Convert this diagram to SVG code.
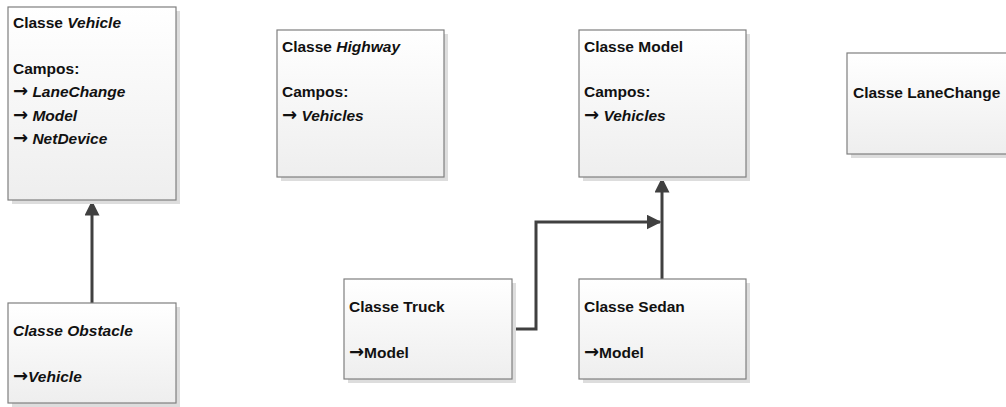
<svg xmlns="http://www.w3.org/2000/svg" width="1006" height="407" viewBox="0 0 1006 407">
  <style>
    .box { fill: url(#boxFill); stroke: #7f7f7f; stroke-width: 1.2; }
    .shadow { fill: #dddddd; }
    .t { font-family: "Liberation Sans", Arial, sans-serif; font-size: 15.5px; font-weight: bold; fill: #111; }
    .i { font-style: italic; }
    .ar { font-family: "DejaVu Sans", sans-serif; font-weight: bold; font-style: normal; font-size: 18px; }
    .wire { fill: none; stroke: #404040; stroke-width: 3; }
  </style>
  <defs>
    <linearGradient id="boxFill" x1="0" y1="0" x2="0" y2="1">
      <stop offset="0" stop-color="#ffffff"/>
      <stop offset="1" stop-color="#eeeeee"/>
    </linearGradient>
    <marker id="head" viewBox="0 0 10 10" refX="9" refY="5" markerWidth="5" markerHeight="5" markerUnits="strokeWidth" orient="auto">
      <path d="M0,0 L10,5 L0,10 z" fill="#404040"/>
    </marker>
  </defs>

  <!-- connectors -->
  <g id="connectors">
    <path class="wire" d="M92,303 V202" marker-end="url(#head)"/>
    <path class="wire" d="M662,279 V179" marker-end="url(#head)"/>
    <path class="wire" d="M512,329 H536 V222 H660" marker-end="url(#head)"/>
  </g>

  <g id="vehicle">
    <rect class="shadow" x="12" y="11" width="168" height="193"/>
    <rect class="box" x="8" y="7" width="168" height="193"/>
    <text class="t" x="13" y="28">Classe <tspan class="i">Vehicle</tspan></text>
    <text class="t" x="13" y="74">Campos:</text>
    <text class="t" x="13" y="97"><tspan class="ar">→</tspan> <tspan class="i">LaneChange</tspan></text>
    <text class="t" x="13" y="121"><tspan class="ar">→</tspan> <tspan class="i">Model</tspan></text>
    <text class="t" x="13" y="144"><tspan class="ar">→</tspan> <tspan class="i">NetDevice</tspan></text>
  </g>

  <g id="obstacle">
    <rect class="shadow" x="12" y="307" width="168" height="100"/>
    <rect class="box" x="8" y="303" width="168" height="100"/>
    <text class="t i" x="13" y="336">Classe Obstacle</text>
    <text class="t i" x="13" y="382"><tspan class="ar">→</tspan>Vehicle</text>
  </g>

  <g id="highway">
    <rect class="shadow" x="281" y="34" width="167" height="147"/>
    <rect class="box" x="277" y="30" width="167" height="147"/>
    <text class="t" x="282" y="52">Classe <tspan class="i">Highway</tspan></text>
    <text class="t" x="282" y="97">Campos:</text>
    <text class="t" x="282" y="121"><tspan class="ar">→</tspan> <tspan class="i">Vehicles</tspan></text>
  </g>

  <g id="model">
    <rect class="shadow" x="583" y="34" width="167" height="147"/>
    <rect class="box" x="579" y="30" width="167" height="147"/>
    <text class="t" x="584" y="52">Classe Model</text>
    <text class="t" x="584" y="97">Campos:</text>
    <text class="t" x="584" y="121"><tspan class="ar">→</tspan> <tspan class="i">Vehicles</tspan></text>
  </g>

  <g id="lanechange">
    <rect class="shadow" x="851" y="57" width="170" height="101"/>
    <rect class="box" x="847" y="53" width="170" height="101"/>
    <text class="t" x="853" y="98">Classe LaneChange</text>
  </g>

  <g id="truck">
    <rect class="shadow" x="348" y="283" width="168" height="100"/>
    <rect class="box" x="344" y="279" width="168" height="100"/>
    <text class="t" x="349" y="312">Classe Truck</text>
    <text class="t" x="349" y="358"><tspan class="ar">→</tspan>Model</text>
  </g>

  <g id="sedan">
    <rect class="shadow" x="583" y="283" width="167" height="100"/>
    <rect class="box" x="579" y="279" width="167" height="100"/>
    <text class="t" x="584" y="312">Classe Sedan</text>
    <text class="t" x="584" y="358"><tspan class="ar">→</tspan>Model</text>
  </g>
</svg>
